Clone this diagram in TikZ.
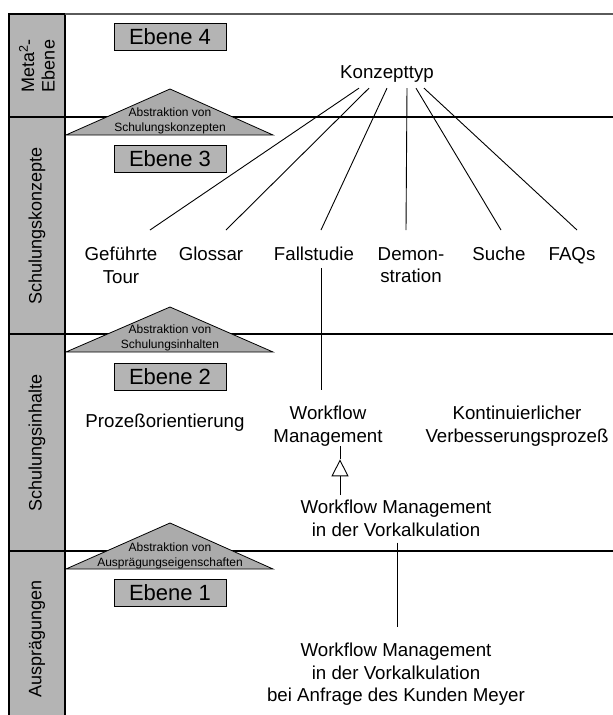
\documentclass[tikz,border=0pt]{standalone}
\usepackage{fontspec}
\setmainfont{Liberation Sans}
\usetikzlibrary{arrows.meta,calc}
\definecolor{colgray}{HTML}{B4B4B4}
\definecolor{trigray}{HTML}{ABABAB}
\definecolor{topgray}{HTML}{5A5A5A}
\begin{document}
\begin{tikzpicture}[x=1pt,y=-1pt,
  txt/.style={font=\fontsize{18.7}{22.5}\selectfont, align=center, inner sep=0pt},
  lbl/.style={font=\fontsize{18}{20.5}\selectfont, align=center, inner sep=0pt, rotate=90},
  ebox/.style={draw=black, line width=0.8pt, fill=colgray, minimum width=112pt, minimum height=27pt, inner sep=0pt, font=\fontsize{22}{24}\selectfont},
  abs/.style={font=\fontsize{12}{15}\selectfont, align=center, inner sep=0pt},
  tri/.style={draw=black, line width=0.8pt, fill=trigray},
  band/.style={line width=1.8pt, black},
  conn/.style={line width=0.9pt, black}]
\useasboundingbox (0,0) rectangle (613,715);
% left column
\fill[colgray] (9,14) rectangle (65,715);
\draw[line width=1.2pt] (9,715) -- (9,14) -- (65,14) -- (65,715);
\draw[topgray, line width=1.5pt] (65,14) -- (613,14);
% level separators
\draw[band] (9,117) -- (613,117);
\draw[band] (9,334) -- (613,334);
\draw[band] (9,551) -- (613,551);
% column labels
\node[lbl] (lmeta) at (37,66) {Meta\textsuperscript{2}-\\Ebene};
\node[lbl] (lkon) at (37,226) {Schulungskonzepte};
\node[lbl] (linh) at (37,443) {Schulungsinhalte};
\node[lbl] (laus) at (37,639) {Ausprägungen};
% level boxes
\node[ebox] (e4) at (170,36.5) {Ebene 4};
\node[ebox] (e3) at (170,159) {Ebene 3};
\node[ebox] (e2) at (170,376.5) {Ebene 2};
\node[ebox] (e1) at (170,593) {Ebene 1};
% abstraction triangles
\draw[tri] (66,135) -- (170,89) -- (273,135) -- cycle;
\node[abs] (a1) at (170,121) {Abstraktion von\\Schulungskonzepten};
\draw[tri] (66,352) -- (170,307) -- (273,352) -- cycle;
\node[abs] (a2) at (170,337.5) {Abstraktion von\\Schulungsinhalten};
\draw[tri] (66,569) -- (170,523) -- (273,569) -- cycle;
\node[abs] (a3) at (170,555.5) {Abstraktion von\\Ausprägungseigenschaften};
% texts
\node[txt, anchor=north] (kt) at (387,65) {Konzepttyp};
\node[txt, anchor=north] (tour) at (121,247) {Geführte\\Tour};
\node[txt, anchor=north] (glos) at (211,247) {Glossar};
\node[txt, anchor=north] (fall) at (314,247) {Fallstudie};
\node[txt, anchor=north] (demo) at (411,247) {Demon-\\stration};
\node[txt, anchor=north] (such) at (499,247) {Suche};
\node[txt, anchor=north] (faq) at (572,247) {FAQs};
\node[txt, anchor=north] (proz) at (165,414) {Prozeßorientierung};
\node[txt, anchor=north] (wm) at (328,406) {Workflow\\Management};
\node[txt, anchor=north] (kvp) at (517,406) {Kontinuierlicher\\Verbesserungsprozeß};
\node[txt, anchor=north] (vk) at (396,500) {Workflow Management\\in der Vorkalkulation};
\node[txt, anchor=north] (mey) at (396,643) {Workflow Management\\in der Vorkalkulation\\bei Anfrage des Kunden Meyer};
% connectors from Konzepttyp
\draw[conn] ($(kt.south)+(-28,6)$) -- ($(tour.north)+(29,-17)$);
\draw[conn] ($(kt.south)+(-18,6)$) -- ($(glos.north)+(15,-17)$);
\draw[conn] ($(kt.south)+(0,6)$) -- ($(fall.north)+(7,-17)$);
\draw[conn] ($(kt.south)+(20,6)$) -- ($(demo.north)+(-5,-17)$);
\draw[conn] ($(kt.south)+(29,6)$) -- ($(such.north)+(2,-17)$);
\draw[conn] ($(kt.south)+(37,6)$) -- ($(faq.north)+(5,-17)$);
% Fallstudie -> Workflow Management
\draw[conn] ($(fall.south)+(7,7)$) -- ($(wm.north)+(-7,-16)$);
% generalisation arrow
\coordinate (gtip) at ($(wm.south)+(12,13)$);
\draw[conn, -{Triangle[open, length=17pt, width=17pt]}] ($(vk.north)+(-56,-5)$) -- (gtip);
\draw[conn] (gtip) -- ($(wm.south)+(12,0)$);
% Vorkalkulation -> Kunde Meyer
\draw[conn] ($(vk.south)+(1,6)$) -- ($(mey.north)+(1,-16)$);
\end{tikzpicture}
\end{document}
